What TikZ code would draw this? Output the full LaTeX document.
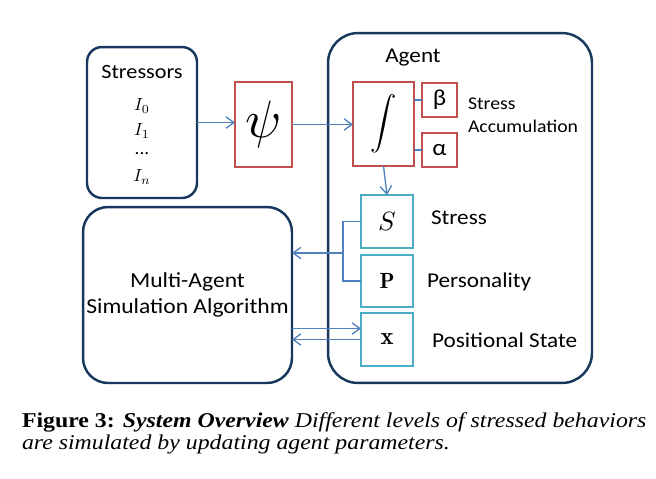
\documentclass[tikz,border=0pt]{standalone}
\usepackage{fontspec}
\usepackage{graphicx}
\newfontfamily\calib[FakeStretch=1.1]{Carlito}
\newfontfamily\timesf[FakeStretch=1.13]{Liberation Serif}
\usetikzlibrary{positioning,arrows.meta}
\definecolor{navy}{HTML}{17375E}
\definecolor{redb}{HTML}{C0504D}
\definecolor{aqua}{HTML}{4BACC6}
\definecolor{linkb}{HTML}{4F81BD}

\begin{document}
\begin{tikzpicture}[x=0.02cm,y=-0.02cm,
    every node/.style={inner sep=0pt,outer sep=0pt},
    outer/.style={draw=navy,line width=1.4pt},
    redbox/.style={draw=redb,line width=1.1pt},
    aquabox/.style={draw=aqua,line width=1.5pt,minimum width=1.04cm,minimum height=1.06cm},
    lbl/.style={font=\calib\fontsize{11.5}{13}\selectfont},
    side/.style={font=\calib\fontsize{12}{15}\selectfont,anchor=west},
    link/.style={draw=linkb,line width=0.75pt},
    arr/.style={link,-{Straight Barb[length=4.5pt,width=6.5pt]}}]
   \useasboundingbox (0,0) rectangle (656,478);

   \node[outer,rounded corners=0.3cm,minimum width=2.2cm,minimum height=3.02cm] (stressors) at (142,122.5) {};
   \node[lbl] (stressors_t) at (142,72) {Stressors};
   \node (i_0) at (142,106) {$I_0$};
   \node (i_1) at (142,131) {$I_1$};
   \node (dots) at (142,154) {\calib\fontsize{10}{12}\selectfont ...};
   \node (i_n) at (142,177) {$I_n$};

   \node[redbox,minimum width=1.14cm,minimum height=1.7cm] (psi) at (263.5,124.5) {\scalebox{3}{$\psi$}};

   \node[outer,rounded corners=0.6cm,minimum width=5.28cm,minimum height=7cm] (agent) at (460,208) {};
   \node[lbl,font=\calib\fontsize{12}{14}\selectfont] (agent_t) at (413,58) {Agent};

   \node[redbox,minimum width=1.22cm,minimum height=1.68cm] (int) at (383.5,124) {\scalebox{1.5}{$\displaystyle\int$}};
   \node[redbox,minimum width=0.7cm,minimum height=0.68cm,font=\calib\fontsize{13}{13}\selectfont] (beta) at (439.5,100) {β};
   \node[redbox,minimum width=0.7cm,minimum height=0.68cm,font=\calib\fontsize{13}{13}\selectfont] (alpha) at (439.5,150) {α};
   \node[lbl,font=\calib\fontsize{10.2}{13}\selectfont,align=left,anchor=west] (accum) at (468,115.5) {Stress\\Accumulation};

   \node[aquabox] (s) at (387,221.5) {\scalebox{1.5}{$S$}};
   \node[aquabox,minimum height=1.04cm] (p) at (387,281) {\scalebox{1.25}{$\mathbf{P}$}};
   \node[aquabox] (x) at (387,339.5) {\scalebox{1.4}{$\mathbf{x}$}};
   \node[side] (s_t) at (431,218) {Stress};
   \node[side] (p_t) at (427,282) {Personality};
   \node[side] (x_t) at (432,340) {Positional State};

   \node[outer,rounded corners=0.5cm,minimum width=4.18cm,minimum height=3.52cm] (mas) at (187.5,295) {};
   \node[align=center,font=\calib\fontsize{12.2}{14.8}\selectfont] (mas_t) at (187.5,295) {Multi-Agent\\Simulation Algorithm};

   \coordinate (br) at (343,253);
   \path (x.west) ++(0,-11) coordinate (xin);
   \draw[arr] (stressors.east) -- (stressors.east -| psi.west);
   \draw[arr] (psi.east) -- (psi.east -| int.west);
   \draw[arr] (int.south) -- (s.north);
   \draw[link] (int.east |- beta) -- (beta.west);
   \draw[link] (int.east |- alpha) -- (alpha.west);
   \draw[link] (s.west) -| (br) |- (p.west);
   \draw[arr] (br) -- (br -| mas.east);
   \draw[arr] (xin -| mas.east) -- (xin);
   \draw[arr] (x.west) -- (x.west -| mas.east);

   \node[anchor=base west,align=left,font=\timesf\fontsize{12}{12}\selectfont] (caption) at (22,449)
     {\textbf{Figure 3:} \textbf{\textit{System Overview}} \textit{Different levels of stressed behaviors}\\
      \textit{are simulated by updating agent parameters.}};
\end{tikzpicture}
\end{document}
